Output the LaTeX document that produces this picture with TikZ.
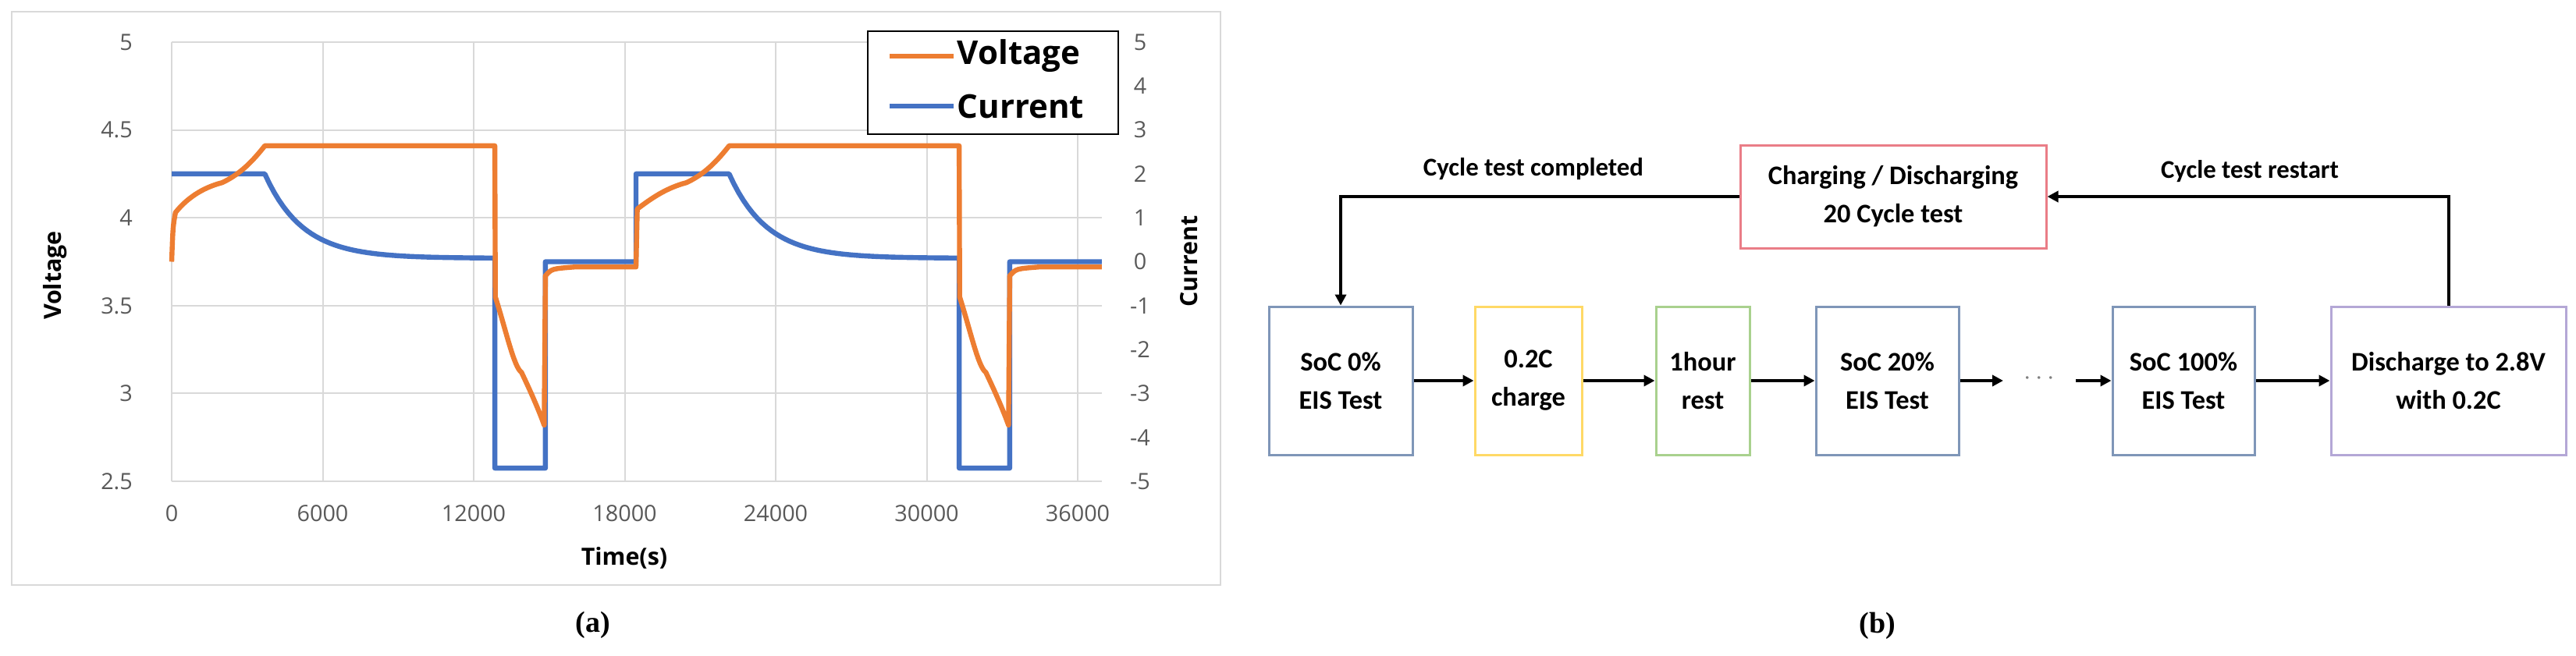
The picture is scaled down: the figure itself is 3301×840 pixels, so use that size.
\documentclass[tikz,border=0pt]{standalone}
\usepackage{fontspec}
\setmainfont{Liberation Serif}
\newfontfamily\chartf{Open Sans}
\newfontfamily\flowf{Carlito}
\usetikzlibrary{arrows.meta}
\definecolor{vcol}{HTML}{ED7D31}
\definecolor{ccol}{HTML}{4472C4}
\definecolor{gridc}{HTML}{D9D9D9}
\definecolor{tickc}{HTML}{595959}
\definecolor{bblue}{HTML}{7F96B8}
\definecolor{byel}{HTML}{FFD966}
\definecolor{bgreen}{HTML}{A9D18E}
\definecolor{bred}{HTML}{EA7D87}
\definecolor{bpurp}{HTML}{B4A7D6}
\tikzset{
  tickl/.style={font=\chartf\fontsize{7.2pt}{8pt}\selectfont, text=tickc},
  axt/.style={font=\chartf\bfseries\fontsize{7.6pt}{9pt}\selectfont},
  box/.style={draw=#1, line width=0.75pt, fill=white, align=center, minimum height=47.5pt,
     inner sep=1pt, font=\flowf\bfseries\fontsize{8.6pt}{12.2pt}\selectfont},
  flow/.style={line width=1.2pt, -{Triangle[length=3.5pt,width=3.5pt]}},
  loopl/.style={line width=1pt, -{Triangle[length=3.5pt,width=3.5pt]}},
  lab/.style={font=\flowf\bfseries\fontsize{8.2pt}{10pt}\selectfont},
  capt/.style={font=\bfseries\fontsize{9.5pt}{11pt}\selectfont},
  vline/.style={vcol, line width=1.6pt, line join=round},
  cline/.style={ccol, line width=1.6pt, line join=round}
}
\begin{document}
\begin{tikzpicture}[x=0.25pt,y=-0.25pt]
\useasboundingbox (0,0) rectangle (3301,840);
% chart frame
\draw[gridc, line width=0.5pt] (15,15) rectangle (1564,750);
% plot
\begin{scope}[shift={(220,1180)}, xscale=32.25, yscale=-225.2]
  \foreach \v in {2.5,3,3.5,4,4.5,5} \draw[gridc, line width=0.5pt] (0,\v) -- (36.96,\v);
  \foreach \t in {0,6,...,36} \draw[gridc, line width=0.5pt] (\t,2.5) -- (\t,5);
  % current
  \draw[cline] (0,4.25) -- (3.7,4.25)
     -- plot[domain=3.7:12.84, samples=50] (\x, {3.75+(0.08+1.92*exp(-(\x-3.7)/1.5))/4})
     -- (12.84,2.575) -- (14.85,2.575) -- (14.85,3.75) -- (18.45,3.75) -- (18.45,4.25) -- (22.15,4.25)
     -- plot[domain=22.15:31.29, samples=50] (\x, {3.75+(0.08+1.92*exp(-(\x-22.15)/1.5))/4})
     -- (31.29,2.575) -- (33.3,2.575) -- (33.3,3.75) -- (36.96,3.75);
  % voltage
  \draw[vline] (0,3.75) .. controls (0.05,3.95) .. (0.15,4.03)
     .. controls (0.6,4.11) and (1.2,4.17) .. (2,4.2)
     .. controls (2.6,4.24) and (3.1,4.3) .. (3.7,4.41) -- (12.84,4.41) -- (12.86,3.55)
     .. controls (13.3,3.35) and (13.6,3.15) .. (13.9,3.12)
     .. controls (14.3,3.0) and (14.6,2.9) .. (14.8,2.82) -- (14.85,3.67)
     .. controls (15.1,3.71) .. (16,3.72) -- (18.45,3.72) -- (18.5,4.05)
     .. controls (19.05,4.11) and (19.65,4.17) .. (20.45,4.2)
     .. controls (21.05,4.24) and (21.55,4.3) .. (22.15,4.41) -- (31.29,4.41) -- (31.31,3.55)
     .. controls (31.75,3.35) and (32.05,3.15) .. (32.35,3.12)
     .. controls (32.75,3.0) and (33.05,2.9) .. (33.25,2.82) -- (33.3,3.67)
     .. controls (33.55,3.71) .. (34.45,3.72) -- (36.96,3.72);
\end{scope}
% ticks
\foreach \v/\y in {5/54,4.5/166.6,4/279.2,3.5/391.8,3/504.4,2.5/617}
  \node[tickl, anchor=east] at (184,\y) {\v};
\foreach \c/\y in {5/54,4/110.3,3/166.6,2/222.9,1/279.2,0/335.5,-1/391.8,-2/448.1,-3/504.4,-4/560.7,-5/617}
  \node[tickl] at (1461,\y) {\c};
\foreach \t/\x in {0/220,6000/413.5,12000/607,18000/800.5,24000/994,30000/1187.5,36000/1381}
  \node[tickl] at (\x,658) {\t};
\node[axt, rotate=90] (vlab) at (71,353) {Voltage};
\node[axt, rotate=90] (clab) at (1524,335) {Current};
\node[axt] (tlab) at (800,715) {Time(s)};
% legend
\draw[line width=0.6pt, fill=white] (1112,40) rectangle (1433,172);
\draw[vcol, line width=1.6pt] (1140,72) -- (1222,72);
\draw[ccol, line width=1.6pt] (1140,136) -- (1222,136);
\node[anchor=west, font=\chartf\bfseries\fontsize{10.5pt}{12pt}\selectfont, inner sep=0pt] (lg1) at (1226,72) {Voltage};
\node[anchor=west, font=\chartf\bfseries\fontsize{10.5pt}{12pt}\selectfont, inner sep=0pt] (lg2) at (1226,136) {Current};
\node[capt] (capa) at (760,801) {(a)};
% flowchart
\node[box=bblue, minimum width=46pt] (s0) at (1718,488) {SoC 0\%\\EIS Test};
\node[box=byel, minimum width=34.25pt] (c2) at (1958.5,488) {0.2C\\charge};
\node[box=bgreen, minimum width=30pt] (hr) at (2182,488) {1hour\\rest};
\node[box=bblue, minimum width=45.75pt] (s20) at (2418.5,488) {SoC 20\%\\EIS Test};
\node[inner sep=0pt, font=\flowf\fontsize{8pt}{9pt}\selectfont, text=gray] (dots) at (2613,485) {$\cdots$};
\node[box=bblue, minimum width=45.5pt] (s100) at (2798,488) {SoC 100\%\\EIS Test};
\node[box=bpurp, minimum width=75.25pt] (dis) at (3137.5,488) {Discharge to 2.8V\\with 0.2C};
\node[box=bred, minimum width=98pt, minimum height=33pt] (cyc) at (2426,252) {Charging / Discharging\\20 Cycle test};
\coordinate (d1) at (2567,488);
\coordinate (d2) at (2660,488);
\draw[flow] (s0) -- (c2);
\draw[flow] (c2) -- (hr);
\draw[flow] (hr) -- (s20);
\draw[flow] (s20.east) -- (d1);
\draw[flow] (d2) -- (s100.west);
\draw[flow] (s100) -- (dis);
\draw[loopl] (cyc.west) -| (s0.north);
\draw[loopl] (dis.north) |- (cyc.east);
\node[lab] (lc) at (1965,217) {Cycle test completed};
\node[lab] (lr) at (2883,220) {Cycle test restart};
\node[capt] (capb) at (2406,802) {(b)};
\end{tikzpicture}
\end{document}
